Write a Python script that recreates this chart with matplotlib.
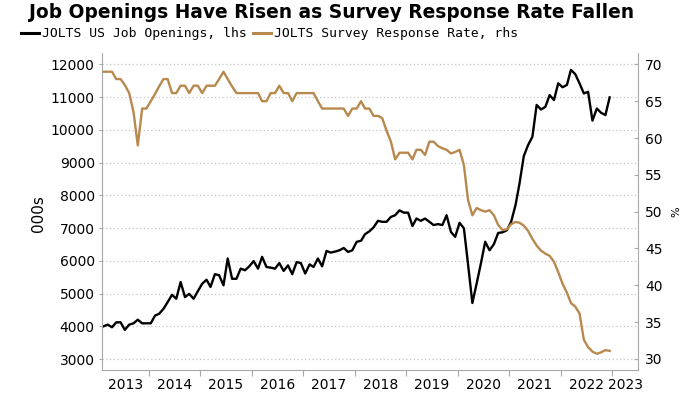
# Librerias
import numpy as np
import pandas as pd
import matplotlib
matplotlib.use('Agg')
import matplotlib.pyplot as plt
import matplotlib.dates as mdates
import matplotlib.ticker as mticker
from matplotlib.lines import Line2D

# Datos mensuales (Feb 2013 - Dic 2022)
meses = pd.date_range('2013-02-01', periods=119, freq='MS') + pd.Timedelta(days=14)

# JOLTS US Job Openings (miles), eje izquierdo
vacantes = [4000, 4050, 3970, 4120, 4120, 3890, 4050, 4090, 4200, 4090,
            4090, 4090, 4330, 4380, 4530, 4740, 4960, 4840, 5350, 4890,
            4990, 4840, 5070, 5300, 5420, 5200, 5590, 5560, 5250, 6070,
            5450, 5450, 5760, 5710, 5830, 5990, 5760, 6120, 5810, 5790,
            5760, 5930, 5690, 5860, 5590, 5960, 5930, 5610, 5890, 5810,
            6070, 5830, 6300, 6250, 6280, 6320, 6390, 6270, 6320, 6580,
            6610, 6810, 6900, 7020, 7220, 7190, 7190, 7340, 7390, 7540,
            7470, 7470, 7060, 7290, 7220, 7290, 7190, 7090, 7120, 7090,
            7390, 6880, 6730, 7160, 6990, 5900, 4710, 5300, 5930, 6580,
            6320, 6510, 6850, 6870, 6930, 7190, 7700, 8350, 9200, 9530,
            9790, 10760, 10620, 10700, 11060, 10910, 11420, 11300, 11370, 11830,
            11700, 11420, 11110, 11160, 10280, 10650, 10520, 10450, 10990]

# JOLTS Survey Response Rate (%), eje derecho
respuesta = [69.0, 69.0, 69.0, 68.0, 68.0, 67.2, 66.1, 63.5, 59.0, 64.0,
             64.0, 65.0, 66.0, 67.0, 68.0, 68.0, 66.1, 66.1, 67.1, 67.1,
             66.1, 67.1, 67.1, 66.1, 67.1, 67.1, 67.1, 68.0, 69.0, 68.0,
             67.0, 66.1, 66.1, 66.1, 66.1, 66.1, 66.1, 65.0, 65.0, 66.1,
             66.1, 67.1, 66.1, 66.1, 65.0, 66.1, 66.1, 66.1, 66.1, 66.1,
             65.0, 64.0, 64.0, 64.0, 64.0, 64.0, 64.0, 63.0, 64.0, 64.0,
             65.0, 64.0, 64.0, 63.0, 63.0, 62.7, 61.0, 59.5, 57.1, 58.0,
             58.0, 58.0, 57.1, 58.4, 58.4, 57.7, 59.5, 59.5, 58.9, 58.6,
             58.4, 57.9, 58.1, 58.4, 56.3, 51.6, 49.5, 50.5, 50.2, 50.0,
             50.2, 49.5, 48.2, 47.5, 47.6, 48.3, 48.6, 48.5, 48.1, 47.4,
             46.3, 45.4, 44.7, 44.3, 44.0, 43.2, 41.8, 40.2, 39.0, 37.6,
             37.1, 36.2, 32.6, 31.6, 31.0, 30.7, 30.9, 31.2, 31.1]

anios = list(range(2013, 2024))
ticks_izq = list(range(3000, 12001, 1000))
ticks_der = list(range(30, 71, 5))

titulo = 'Job Openings Have Risen as Survey Response Rate Fallen'
nombre1 = 'JOLTS US Job Openings, lhs'
nombre2 = 'JOLTS Survey Response Rate, rhs'

ORO = '#B8894F'
GRIS = '#A8A8A8'
TICK_SIZE = 10

# Figura
fig = plt.figure(figsize=(7, 3.94), dpi=100)
ax = fig.add_axes([0.1453, 0.0609, 0.7661, 0.8038])
ax2 = ax.twinx()

ax.plot(meses, vacantes, color='black', lw=1.7)
ax2.plot(meses, respuesta, color=ORO, lw=1.7)

# Limites
x0 = pd.Timestamp('2013-02-01')
x1 = pd.Timestamp('2023-07-04')
ax.set_xlim(x0, x1)
ax.set_ylim(2664, 12336)
ax2.set_ylim(28.5, 71.5)
ax.set_yticks(ticks_izq)
ax2.set_yticks(ticks_der)

# Eje x: marcas en cambio de anio, etiquetas centradas en la parte visible
ax.xaxis.set_major_locator(mdates.YearLocator())
ax.xaxis.set_major_formatter(mticker.NullFormatter())
centros = []
for a in anios:
    ini = max(pd.Timestamp(f'{a}-01-01'), x0)
    fin = min(pd.Timestamp(f'{a+1}-01-01'), x1)
    centros.append(mdates.date2num(ini) + (mdates.date2num(fin) - mdates.date2num(ini)) / 2)
ax.xaxis.set_minor_locator(mticker.FixedLocator(centros))
ax.xaxis.set_minor_formatter(mticker.FixedFormatter([str(a) for a in anios]))
ax.tick_params(axis='x', which='major', direction='out', length=4, width=0.8, color=GRIS)
ax.tick_params(axis='x', which='minor', length=0, labelsize=TICK_SIZE, pad=6)

ax.tick_params(axis='y', direction='out', length=2.5, width=0.8, color=GRIS,
               labelsize=TICK_SIZE, pad=2.5)
ax2.tick_params(axis='y', direction='in', length=3, width=0.8, color=GRIS,
                labelsize=TICK_SIZE, pad=5)

# Rejilla punteada
ax.grid(axis='y', ls=(0, (1, 2)), color='#C4C4C4', lw=0.9)
ax.set_axisbelow(True)

# Bordes
for a in (ax, ax2):
    a.spines['top'].set_visible(False)
ax.spines['right'].set_visible(False)
ax2.spines['left'].set_visible(False)
ax2.spines['bottom'].set_visible(False)
for s in ('left', 'bottom'):
    ax.spines[s].set_color(GRIS)
ax2.spines['right'].set_color(GRIS)

# Textos
fig.text(0.041, 0.968, titulo, fontsize=13.4, fontweight='bold', va='center', ha='left')
fig.text(0.055, 0.459, '000s', rotation=90, fontsize=11, va='center', ha='center')
fig.text(0.966, 0.462, '%', rotation=90, fontsize=8, va='center', ha='center')

manijas = [Line2D([], [], color='black', lw=2.2), Line2D([], [], color=ORO, lw=2.2)]
fig.legend(manijas, [nombre1, nombre2], loc='center left',
           bbox_to_anchor=(0.03, 1 - 34 / 394), ncol=2, frameon=False,
           handlelength=1.4, handletextpad=0.2, columnspacing=0.5,
           borderaxespad=0, borderpad=0,
           prop={'family': 'DejaVu Sans Mono', 'size': 9.4})

fig.savefig('out.png', dpi=100)
